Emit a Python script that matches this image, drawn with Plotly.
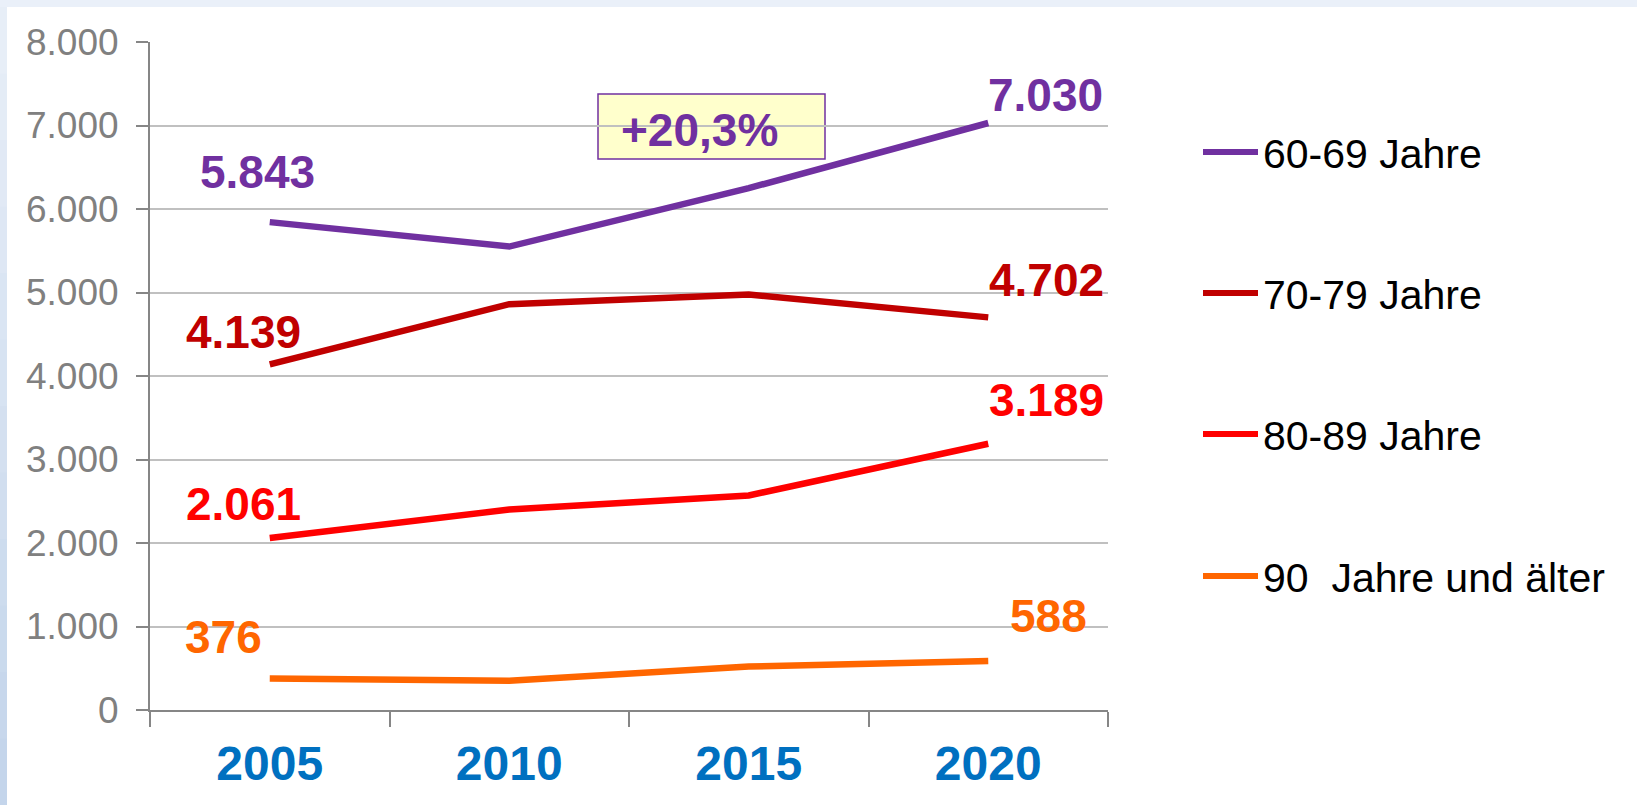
import plotly.graph_objects as go

# ---------------- data ----------------
years = ["2005", "2010", "2015", "2020"]
series_names = ["60-69 Jahre", "70-79 Jahre", "80-89 Jahre", "90  Jahre und älter"]
v_60_69 = [5843, 5550, 6250, 7030]
v_70_79 = [4139, 4860, 4975, 4702]
v_80_89 = [2061, 2400, 2570, 3189]
v_90 = [376, 350, 520, 588]
series_values = [v_60_69, v_70_79, v_80_89, v_90]
colors = ["#7030A0", "#C00000", "#FF0000", "#FF6600"]
y_ticks = [0, 1000, 2000, 3000, 4000, 5000, 6000, 7000, 8000]
change_label = "+20,3%"

# ---------------- layout geometry (pixels) ----------------
W, H = 1637, 805
L, R, T, B = 150, 1108, 42, 710
pw, ph = R - L, B - T


def px_x(px):
    return (px - L) / pw


def px_y(py):
    return (B - py) / ph


FONT = "Arial, Liberation Sans, sans-serif"


def fmt(v):
    return f"{v:,}".replace(",", ".")


fig = go.Figure()
for name, vals, col in zip(series_names, series_values, colors):
    fig.add_trace(go.Scatter(
        x=years, y=vals, mode="lines", name=name,
        line=dict(color=col, width=6.5),
        showlegend=False,
        hovertemplate="%{x}: %{y}<extra>" + name + "</extra>",
    ))

# data labels (first and last point of each series)
label_offsets = [
    ((-12, 50), (57, 28)),
    ((-26, 32), (58, 37)),
    ((-26, 34), (58, 44)),
    ((-46, 42), (60, 45)),
]
annotations = []
for vals, col, (o_first, o_last) in zip(series_values, colors, label_offsets):
    for idx, (dx, dy) in ((0, o_first), (len(years) - 1, o_last)):
        annotations.append(dict(
            x=idx, y=vals[idx], xref="x", yref="y",
            text=fmt(vals[idx]), showarrow=False,
            xshift=dx, yshift=dy,
            font=dict(family=FONT, size=46, color=col, weight="bold"),
        ))

# change box
shapes = []
shapes.append(dict(type="rect", xref="paper", yref="paper",
                   x0=px_x(598), x1=px_x(825), y0=px_y(159), y1=px_y(94),
                   fillcolor="#FFFFCC", line=dict(color="#7030A0", width=1.5),
                   layer="below"))
annotations.append(dict(x=px_x(619), y=px_y(130), xref="paper", yref="paper",
                        xanchor="left", yanchor="middle", showarrow=False,
                        text=change_label,
                        font=dict(family=FONT, size=46, color="#7030A0", weight="bold")))

# custom legend
legend_y = [152, 293, 434, 576]
for name, col, ly in zip(series_names, colors, legend_y):
    shapes.append(dict(type="line", xref="paper", yref="paper",
                       x0=px_x(1203), x1=px_x(1258), y0=px_y(ly), y1=px_y(ly),
                       line=dict(color=col, width=6)))
    annotations.append(dict(x=px_x(1261), y=px_y(ly + 2), xref="paper", yref="paper",
                            xanchor="left", yanchor="middle", showarrow=False,
                            text=name.replace("  ", "&nbsp; "),
                            font=dict(family=FONT, size=41, color="#000000")))

# background frame: white area with light-blue strips at top and left
shapes.insert(0, dict(type="rect", xref="paper", yref="paper",
                      x0=px_x(7), x1=px_x(W + 5), y0=px_y(H + 5), y1=px_y(7),
                      fillcolor="#FFFFFF", line=dict(width=0), layer="below"))
n_strip = 12
top_c = (0xE9, 0xEF, 0xF8)
bot_c = (0xC2, 0xD4, 0xEA)
for i in range(n_strip):
    t = (i + 0.5) / n_strip
    c = tuple(round(a + (b - a) * t) for a, b in zip(top_c, bot_c))
    y0p = 7 + (H - 7) * i / n_strip
    y1p = 7 + (H - 7) * (i + 1) / n_strip
    shapes.insert(1 + i, dict(type="rect", xref="paper", yref="paper",
                              x0=px_x(-5), x1=px_x(7), y0=px_y(y1p + 1), y1=px_y(y0p),
                              fillcolor="rgb(%d,%d,%d)" % c, line=dict(width=0),
                              layer="below"))

fig.update_layout(
    width=W, height=H,
    margin=dict(l=L, r=W - R, t=T, b=H - B, pad=0),
    paper_bgcolor="#EAF0F9",
    plot_bgcolor="rgba(0,0,0,0)",
    separators=",.",
    font=dict(family=FONT),
    showlegend=False,
    shapes=shapes,
    annotations=annotations,
    xaxis=dict(
        type="category", categoryorder="array", categoryarray=years,
        tickson="boundaries", ticks="outside", ticklen=15, tickwidth=2,
        tickcolor="#868686", showline=True, linecolor="#868686", linewidth=2,
        showgrid=False, zeroline=False,
        tickfont=dict(family=FONT, size=48, color="#0070C0", weight="bold"),
        ticklabelstandoff=10,
        range=[-0.5, 3.5],
    ),
    yaxis=dict(
        range=[0, 8000], tickvals=y_ticks, tickformat=",d",
        ticks="outside", ticklen=12, tickwidth=2, tickcolor="#868686",
        showline=True, linecolor="#868686", linewidth=2,
        showgrid=True, gridcolor="#C0C0C0", gridwidth=2, zeroline=False,
        tickfont=dict(family=FONT, size=37, color="#808080"),
        ticklabelstandoff=10,
    ),
)

fig.write_html("out.html",
               config={"displayModeBar": False},
               post_script="document.body.style.margin='0';document.body.style.overflow='hidden';")
